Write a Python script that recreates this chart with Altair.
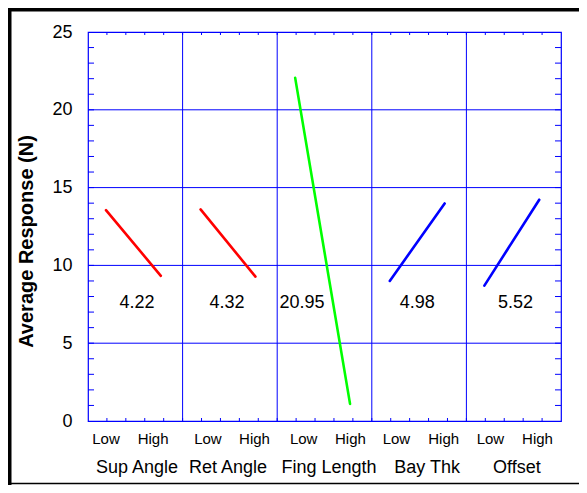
import altair as alt
import pandas as pd

# ---- data ----
factors = ["Sup Angle", "Ret Angle", "Fing Length", "Bay Thk", "Offset"]
low_means = [13.55, 13.60, 22.05, 9.00, 8.70]
high_means = [9.33, 9.28, 1.10, 13.98, 14.22]
effects = ["4.22", "4.32", "20.95", "4.98", "5.52"]
line_colors = ["#ff0000", "#ff0000", "#00ff00", "#0000ff", "#0000ff"]
levels = ["Low", "High"]

# ---- layout constants (panel = 5 x-units) ----
PANEL = 5
LOW_POS, HIGH_POS = 0.95, 3.85
low_lab_pos = [0.95, 1.34, 1.40, 1.30, 1.27]
high_lab_pos = [3.44, 3.80, 3.87, 3.80, 3.76]
eff_pos = [2.59, 2.35, 1.31, 2.40, 2.60]
EFF_Y = 7.6
name_pos = [2.59, 2.40, 2.74, 2.92, 2.67]

W, H = 473, 389
PAD = {"left": 80, "top": 24, "right": 18, "bottom": 64}
FONT = "Liberation Sans"
BLUE = "#0000ff"

rows = []
for i, f in enumerate(factors):
    rows.append({"factor": f, "x": i * PANEL + LOW_POS, "y": low_means[i], "c": line_colors[i]})
    rows.append({"factor": f, "x": i * PANEL + HIGH_POS, "y": high_means[i], "c": line_colors[i]})
lines_df = pd.DataFrame(rows)

eff_df = pd.DataFrame({"x": [i * PANEL + p for i, p in enumerate(eff_pos)],
                       "y": [EFF_Y] * 5, "t": effects})
lvl_rows = []
for i in range(len(factors)):
    lvl_rows.append({"x": i * PANEL + low_lab_pos[i], "t": levels[0]})
    lvl_rows.append({"x": i * PANEL + high_lab_pos[i], "t": levels[1]})
lvl_df = pd.DataFrame(lvl_rows)
name_df = pd.DataFrame({"x": [i * PANEL + p for i, p in enumerate(name_pos)], "t": factors})

xs = alt.Scale(domain=[0, 25], nice=False, zero=False)
ys = alt.Scale(domain=[0, 25], nice=False, zero=False)

yaxis = alt.Axis(values=[0, 5, 10, 15, 20, 25], domain=False, ticks=False, grid=False,
                 labelFont=FONT, labelFontSize=18, labelColor="black", labelPadding=16,
                 labelOverlap=False, labelFlush=False, title="Average Response (N)",
                 titleFont=FONT, titleFontSize=20, titleFontWeight="bold", titleColor="black",
                 titleAngle=270, titleX=-62, titleY=209, titleAlign="center",
                 titleBaseline="middle")


def Y(field):
    return alt.Y(field, scale=ys, axis=yaxis)


def X(field):
    return alt.X(field, scale=xs, axis=None)


hgrid = alt.Chart(pd.DataFrame({"v": [5, 10, 15, 20]})).mark_rule(color=BLUE, strokeWidth=1).encode(
    y=Y("v:Q"))
vgrid = alt.Chart(pd.DataFrame({"v": [5, 10, 15, 20]})).mark_rule(color=BLUE, strokeWidth=1).encode(
    x=X("v:Q"))

minor = pd.DataFrame({"v": list(range(1, 25))})
left_ticks = alt.Chart(minor).mark_rule(color=BLUE, strokeWidth=1).encode(
    y=Y("v:Q"), x=alt.value(0), x2=alt.value(6))
right_ticks = alt.Chart(minor).mark_rule(color=BLUE, strokeWidth=1).encode(
    y=Y("v:Q"), x=alt.value(W), x2=alt.value(W - 6))
top_ticks = alt.Chart(minor).mark_rule(color=BLUE, strokeWidth=1).encode(
    x=X("v:Q"), y=alt.value(0), y2=alt.value(3))
bot_ticks = alt.Chart(minor).mark_rule(color=BLUE, strokeWidth=1).encode(
    x=X("v:Q"), y=alt.value(H), y2=alt.value(H - 3))

lines = alt.Chart(lines_df).mark_line(strokeWidth=2.6, strokeCap="round").encode(
    x=X("x:Q"),
    y=Y("y:Q"),
    detail="factor:N",
    color=alt.Color("c:N", scale=None),
)

eff_text = alt.Chart(eff_df).mark_text(font=FONT, fontSize=18, color="black",
                                       baseline="middle", align="center").encode(
    x=X("x:Q"), y=Y("y:Q"), text="t:N")

lvl_text = alt.Chart(lvl_df).mark_text(font=FONT, fontSize=15, color="black",
                                       baseline="middle", align="center").encode(
    x=X("x:Q"), y=alt.value(H + 18), text="t:N")

name_text = alt.Chart(name_df).mark_text(font=FONT, fontSize=18, color="black",
                                         baseline="middle", align="center").encode(
    x=X("x:Q"), y=alt.value(H + 47), text="t:N")

# outer black frame (decoration)
one = pd.DataFrame({"a": [0]})
frame_left = alt.Chart(one).mark_rule(color="black", strokeWidth=5).encode(
    x=alt.value(-PAD["left"] + 1), y=alt.value(-PAD["top"]), y2=alt.value(H + PAD["bottom"]))
frame_top = alt.Chart(one).mark_rule(color="black", strokeWidth=5).encode(
    y=alt.value(-PAD["top"] + 1), x=alt.value(-PAD["left"]), x2=alt.value(W + PAD["right"]))
frame_bot = alt.Chart(one).mark_rule(color="black", strokeWidth=1.5).encode(
    y=alt.value(H + PAD["bottom"] - 1.5), x=alt.value(-PAD["left"]), x2=alt.value(W + PAD["right"]))

chart = alt.layer(
    hgrid, vgrid, left_ticks, right_ticks, top_ticks, bot_ticks,
    lines, eff_text, lvl_text, name_text, frame_left, frame_top, frame_bot
).properties(
    width=W, height=H, padding=PAD,
    autosize=alt.AutoSizeParams(type="none"),
    background="white",
).configure_view(stroke=BLUE, strokeWidth=1.2)

chart.save("out.html", embed_options={"renderer": "svg", "actions": False})
